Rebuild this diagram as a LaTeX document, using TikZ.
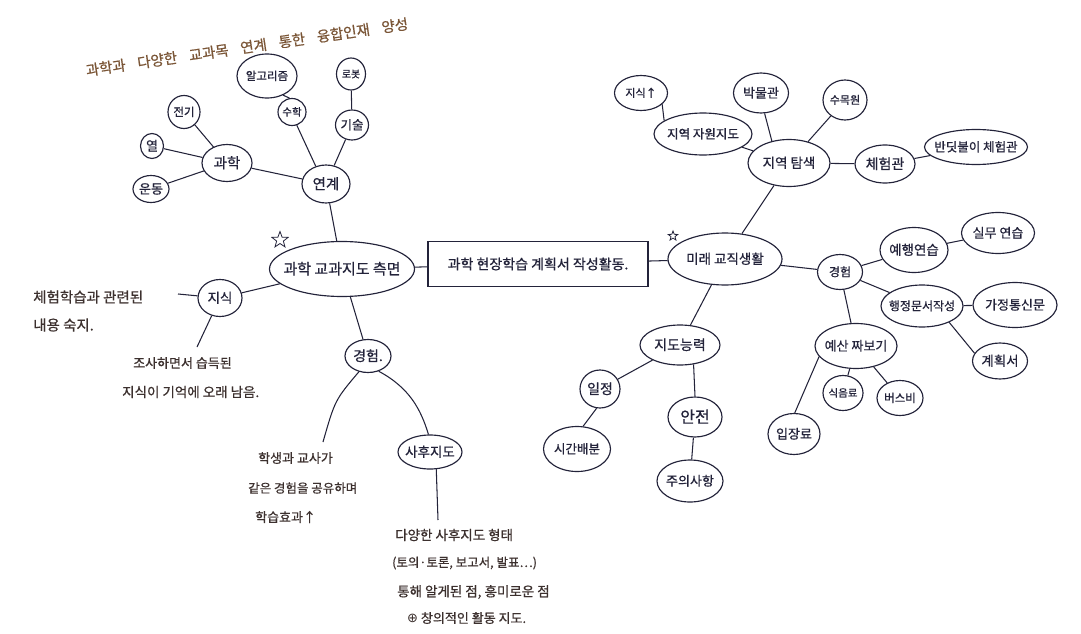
\documentclass[tikz,border=0pt]{standalone}
\usepackage{fontspec}
\newfontfamily\kr[FakeBold=0.7]{Noto Sans CJK KR}
\newfontfamily\dv{DejaVu Sans}
\usetikzlibrary{shapes.geometric}
\definecolor{ink}{HTML}{23233A}
\definecolor{ttlc}{HTML}{7A5536}
\definecolor{txt}{HTML}{3C302E}
\newcommand{\nt}[1]{\makebox[0pt]{\smash{\raisebox{-0.36em}{#1}}}}
\begin{document}
\begin{tikzpicture}[x=1pt,y=-1pt,
  fz/.style={font=\kr\fontsize{#1pt}{#1pt}\selectfont},
  bub/.style 2 args={ellipse, draw=ink, line width=1.15pt, inner sep=0pt, minimum width=#1pt, minimum height=#2pt, text=ink},
  link/.style={draw=ink, line width=1.05pt},
  note/.style={text=txt, inner sep=0pt, anchor=west},
  starmark/.style={star, star points=5, star point ratio=2.4, draw=ink, line width=0.8pt, inner sep=0pt},
]
\path[use as bounding box, fill=white] (0,0) rectangle (1081,634);

% title
\node[fz=14.5, text=ttlc, rotate=8.3] (ttl) at (247,47) {과학과\hspace{12pt}다양한\hspace{12pt}교과목\hspace{12pt}연계\hspace{12pt}통한\hspace{12pt}융합인재\hspace{12pt}양성};

% centre
\node[bub={145}{55}, fz=15] (kg) at (342,269) {\nt{과학 교과지도 측면}};
\node[draw=ink, line width=1.15pt, minimum width=220pt, minimum height=45pt, inner sep=0pt, text=ink, fz=14] (box) at (538,264) {과학 현장학습 계획서 작성활동.};
\node[bub={114}{52}, fz=13.5] (mr) at (725,259) {\nt{미래 교직생활}};
\node[starmark, minimum size=17pt] (st1) at (280,240) {};
\node[starmark, minimum size=10pt] (st2) at (673,236) {};

% left top
\node[bub={60}{44}, fz=11.5] (al) at (267,76) {\nt{알고리즘}};
\node[bub={29}{32}, fz=10] (rb) at (351,74) {\nt{로봇}};
\node[bub={32}{33}, fz=11.5] (jg) at (184,112) {\nt{전기}};
\node[bub={28}{27}, fz=10.5] (sh2) at (292,112) {\nt{수학}};
\node[bub={33}{30}, fz=12.5] (gs) at (352,125) {\nt{기술}};
\node[bub={23}{25}, fz=13] (yl) at (152,146) {\nt{열}};
\node[bub={50}{37}, fz=14.5] (gh) at (227,163) {\nt{과학}};
\node[bub={36}{27}, fz=13] (ud) at (151,189) {\nt{운동}};
\node[bub={48}{38}, fz=14.5] (yg) at (326,184) {\nt{연계}};

% left lower
\node[bub={44}{37}, fz=13.5] (jk) at (220,298) {\nt{지식}};
\node[bub={46}{33}, fz=14] (gx) at (368,356) {\nt{경험.}};
\node[bub={64}{34}, fz=13.5] (sh) at (430,452) {\nt{사후지도}};

\node[note, fz=14.5] (t1a) at (33,297) {체험학습과 관련된};
\node[note, fz=14.5] (t1b) at (33,325) {내용 숙지.};
\node[note, fz=13] (t2a) at (133,363) {조사하면서 습득된};
\node[note, fz=13.5] (t2b) at (122,392) {지식이 기억에 오래 남음.};
\node[note, fz=13] (t3a) at (258,458) {학생과 교사가};
\node[note, fz=12.5] (t3b) at (248,488) {같은 경험을 공유하며};
\node[note, fz=13] (t3c) at (255,517) {학습효과↑};
\node[note, fz=13.5] (t4a) at (395,535) {다양한 사후지도 형태};
\node[note, fz=12.5] (t4b) at (392,563) {(토의·토론, 보고서, 발표…)};
\node[note, fz=13.5] (t4c) at (397,592) {통해 알게된 점, 흥미로운 점};
\node[note, fz=13] (t4d) at (407,618) {{\dv ⊕} 창의적인 활동 지도.};

\coordinate (c3) at (178,294);
\coordinate (c4) at (197,347);
\coordinate (c5) at (323,442);
\coordinate (c6) at (438,520);

% right
\node[bub={53}{35}, fz=11] (jsu) at (641,93) {\nt{지식↑}};
\node[bub={98}{42}, fz=12.5] (jy) at (703,134) {\nt{지역 자원지도}};
\node[bub={55}{40}, fz=13] (bm) at (761,93) {\nt{박물관}};
\node[bub={44}{40}, fz=11] (sm) at (845,100) {\nt{수목원}};
\node[bub={82}{47}, fz=13.5] (jt) at (789,163) {\nt{지역 탐색}};
\node[bub={60}{38}, fz=14] (ch) at (885,164) {\nt{체험관}};
\node[bub={103}{35}, fz=12.5] (bd) at (976,147) {\nt{반딧불이 체험관}};
\node[bub={45}{35}, fz=12] (gr) at (840,272) {\nt{경험}};
\node[bub={68}{45}, fz=13.5] (yh) at (914,250) {\nt{예행연습}};
\node[bub={73}{41}, fz=13] (sw) at (998,233) {\nt{실무 연습}};
\node[bub={82}{42}, fz=12] (hj) at (922,306) {\nt{행정문서작성}};
\node[bub={84}{45}, fz=13] (gt) at (1015,305) {\nt{가정통신문}};
\node[bub={55}{36}, fz=13.5] (gw) at (1000,361) {\nt{계획서}};
\node[bub={82}{45}, fz=13] (ys) at (856,346) {\nt{예산 짜보기}};
\node[bub={40}{35}, fz=10.5] (se) at (843,393) {\nt{식음료}};
\node[bub={46}{35}, fz=11.5] (bs) at (900,398) {\nt{버스비}};
\node[bub={52}{41}, fz=13] (ij) at (794,434) {\nt{입장료}};
\node[bub={80}{40}, fz=14] (jd) at (680,345) {\nt{지도능력}};
\node[bub={40}{38}, fz=14] (il) at (600,389) {\nt{일정}};
\node[bub={54}{40}, fz=16] (aj) at (695,417) {\nt{안전}};
\node[bub={67}{45}, fz=12.5] (sg) at (577,449) {\nt{시간배분}};
\node[bub={66}{42}, fz=13] (jw) at (690,481) {\nt{주의사항}};

% connectors left
\draw[link] (al.-50) -- (sh2.100);
\draw[link] (rb) -- (gs);
\draw[link] (jg) -- (gh);
\draw[link] (yl) -- (gh);
\draw[link] (ud) -- (gh);
\draw[link] (gh) -- (yg);
\draw[link] (sh2.-70) -- (yg.120);
\draw[link] (gs) -- (yg);
\draw[link] (yg) -- (kg);
\draw[link] (kg) -- (box);
\draw[link] (box) -- (mr);
\draw[link] (kg) -- (jk);
\draw[link] (kg) -- (gx);
\draw[link] (jk) -- (c3);
\draw[link] (jk) -- (c4);
\draw[link] (gx.-120) .. controls (335,400) .. (c5);
\draw[link] (gx.-55) .. controls (410,388) and (421,410) .. (sh.95);
\draw[link] (sh.-70) -- (c6);

% connectors right
\draw[link] (mr) -- (jt);
\draw[link] (jt) -- (jy);
\draw[link] (jsu.-28) -- (jy.161);
\draw[link] (bm.-80) -- (jt.128);
\draw[link] (sm) -- (jt);
\draw[link] (jt) -- (ch);
\draw[link] (ch) -- (bd);
\draw[link] (mr) -- (gr);
\draw[link] (gr) -- (yh);
\draw[link] (gr) -- (hj);
\draw[link] (gr) -- (ys);
\draw[link] (yh) -- (sw);
\draw[link] (hj) -- (gt);
\draw[link] (hj.-31) -- (gw.163);
\draw[link] (ys) -- (se);
\draw[link] (ys) -- (bs);
\draw[link] (ys.196) -- (ij.88);
\draw[link] (mr) -- (jd);
\draw[link] (jd) -- (il);
\draw[link] (jd.-55) -- (aj.north);
\draw[link] (il.-100) -- (sg.75);
\draw[link] (aj) -- (jw);
\end{tikzpicture}
\end{document}
